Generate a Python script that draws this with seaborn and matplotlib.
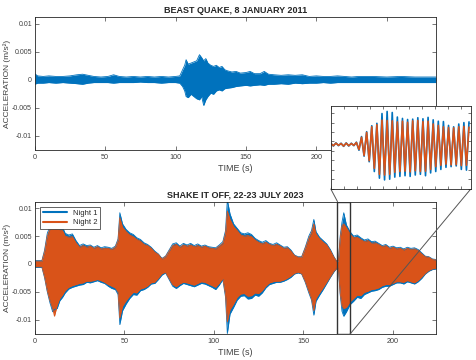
import numpy as np
import pandas as pd
import seaborn as sns
import matplotlib
matplotlib.use("Agg")
import matplotlib.pyplot as plt
from matplotlib.patches import Rectangle, ConnectionPatch
from matplotlib.lines import Line2D

# ---- data (accelerations in mm/s^2, converted to m/s^2 below) ----
# Beast Quake 2011: envelope of the trace
quake_t = [0, 2, 6, 10, 15, 20, 25, 30, 34, 38, 42, 47, 52, 56, 60, 65, 70, 75, 80, 85,
           90, 95, 100, 103, 105, 106.5, 107.5, 109, 111, 113, 115, 117, 118.5, 120, 121.5,
           123, 125, 127, 129, 131, 133, 135, 137, 140, 143, 146, 150, 153, 156, 160, 163,
           166, 170, 175, 180, 185, 190, 195, 200, 205, 210, 215, 220, 225, 230, 240, 250,
           260, 270, 285]
quake_up = [1.1, 0.7, 0.6, 0.7, 0.6, 0.6, 0.7, 0.9, 1.0, 0.8, 0.6, 0.5, 0.6, 0.9, 0.6, 0.5,
            0.6, 0.5, 0.6, 0.5, 0.6, 0.5, 0.6, 0.7, 1.8, 2.6, 3.6, 2.8, 3.0, 3.2, 3.4, 4.5,
            4.0, 3.4, 3.8, 3.0, 2.6, 2.4, 2.6, 2.2, 2.4, 1.8, 1.6, 1.4, 1.5, 1.2, 1.3, 1.5,
            1.1, 1.1, 1.5, 1.0, 0.9, 0.8, 0.9, 0.8, 0.9, 0.6, 0.7, 0.6, 0.6, 0.7, 0.6, 0.5,
            0.6, 0.6, 0.5, 0.6, 0.5, 0.5]
quake_lo = [-0.8, -0.6, -0.6, -0.5, -0.6, -0.5, -0.6, -0.7, -0.8, -0.6, -0.5, -0.5, -0.5,
            -0.6, -0.5, -0.5, -0.5, -0.4, -0.5, -0.5, -0.6, -0.5, -0.5, -0.6, -1.2, -2.0,
            -3.0, -3.2, -2.6, -3.0, -3.4, -3.6, -3.0, -4.6, -3.6, -3.0, -2.4, -2.6, -2.0,
            -1.8, -2.0, -1.6, -1.5, -1.4, -1.2, -1.1, -1.0, -1.1, -1.0, -0.9, -1.0, -0.8,
            -0.8, -0.7, -0.8, -0.6, -0.7, -0.6, -0.6, -0.5, -0.6, -0.5, -0.5, -0.5, -0.5,
            -0.5, -0.5, -0.5, -0.5, -0.5]

# Shake It Off 2023: envelopes of night 1 and night 2
shake_t = [0, 4, 5.5, 7, 8.5, 10, 11, 12.5, 14, 15.5, 17, 19, 21, 23, 25, 27, 29, 31, 33, 35,
           37, 39, 41, 43, 45, 46.5, 47.5, 49, 51, 53, 55, 57, 59, 61, 63, 65, 67, 69, 71,
           73, 75, 77, 79, 81, 83, 85, 87, 89, 91, 93, 95, 97, 99, 101, 103, 105, 106.5,
           107.5, 109, 111, 113, 115, 117, 119, 121, 123, 125, 127, 129, 131, 133, 135, 137,
           139, 141, 143, 145, 147, 149, 151, 153, 154.5, 155.8, 157, 159, 161, 163, 165,
           167, 168.5, 169.5, 170.5, 171.5, 172.5, 174, 176, 178, 180, 182, 184, 186, 188,
           190, 192, 194, 196, 198, 200, 202, 204, 206, 208, 210, 212, 214, 216, 218, 220,
           222, 224]
night1_up = [0.6, 0.6, 2.5, 5.5, 6.8, 7.4, 7.2, 7.3, 6.5, 6.6, 5.5, 5.2, 5.4, 4.2, 3.3, 3.6,
             3.3, 3.4, 3.0, 3.3, 2.9, 3.1, 3.0, 2.8, 3.2, 4.5, 9.2, 7.2, 6.2, 5.6, 5.3, 4.7,
             4.4, 3.8, 3.5, 3.0, 2.3, 1.8, 1.0, 1.4, 2.5, 3.6, 3.8, 3.2, 3.7, 3.4, 3.7, 3.3,
             3.6, 3.2, 3.4, 3.1, 3.0, 2.9, 3.4, 4.0, 6.0, 11.5, 9.0, 7.2, 6.4, 5.6, 5.4, 5.6,
             5.3, 4.6, 4.2, 3.9, 4.2, 3.7, 3.5, 3.8, 3.4, 3.0, 3.1, 2.5, 1.6, 1.3, 1.3, 3.0,
             5.0, 6.0, 8.0, 5.8, 4.8, 4.2, 3.6, 2.6, 1.3, 0.5, 0.5, 5.0, 7.5, 9.2, 7.0, 5.8,
             5.0, 5.2, 4.7, 4.3, 4.5, 4.0, 4.1, 3.7, 3.3, 3.5, 3.0, 3.2, 2.9, 3.0, 2.7, 3.0,
             2.8, 2.9, 2.6, 2.0, 1.4, 1.3, 0.9, 0.8]
night1_lo = [-0.6, -0.6, -2.5, -5.0, -7.0, -8.6, -8.2, -8.0, -6.6, -6.0, -5.2, -4.5, -4.2,
             -4.0, -3.8, -3.7, -3.3, -3.4, -3.2, -3.0, -3.3, -3.5, -4.0, -4.4, -4.6, -5.5,
             -10.9, -8.4, -7.2, -6.2, -5.5, -5.6, -4.8, -4.6, -4.2, -3.6, -3.5, -2.8, -2.0,
             -1.6, -2.8, -4.0, -4.4, -3.9, -3.5, -3.7, -3.9, -4.1, -3.8, -3.5, -3.6, -3.9,
             -4.2, -4.6, -3.8, -2.8, -6.0, -12.5, -9.0, -7.8, -6.5, -5.8, -5.7, -6.3, -6.2,
             -5.6, -5.8, -5.2, -4.3, -3.7, -3.5, -3.3, -3.3, -3.1, -2.8, -2.4, -1.8, -1.6,
             -1.8, -3.3, -5.2, -6.5, -9.2, -6.7, -5.6, -4.6, -3.5, -2.4, -1.4, -0.8, -0.8,
             -5.5, -8.5, -9.4, -8.6, -7.3, -6.7, -6.0, -6.2, -5.5, -5.2, -4.9, -4.8, -4.6,
             -4.2, -4.0, -4.0, -3.7, -3.4, -3.4, -3.6, -3.2, -3.4, -3.6, -3.2, -2.6, -1.8,
             -1.3, -1.0, -0.9]
night2_up = [0.5, 0.5, 2.2, 5.0, 6.3, 7.0, 6.8, 6.9, 6.0, 6.0, 5.0, 4.8, 4.9, 3.8, 3.0, 3.3,
             3.0, 3.2, 2.8, 3.1, 2.7, 2.8, 2.8, 2.6, 3.0, 4.2, 8.3, 6.6, 5.8, 5.2, 4.9, 4.4,
             4.1, 3.5, 3.3, 2.8, 2.1, 1.7, 0.9, 1.3, 2.3, 3.3, 3.5, 3.0, 3.4, 3.2, 3.4, 3.1,
             3.3, 3.0, 3.2, 2.9, 2.8, 2.7, 3.2, 3.7, 5.5, 9.5, 8.0, 6.7, 6.0, 5.2, 5.0, 5.1,
             4.9, 4.3, 3.9, 3.6, 3.9, 3.5, 3.3, 3.5, 3.2, 2.8, 2.9, 2.3, 1.5, 1.2, 1.2, 2.8,
             4.6, 5.6, 7.2, 5.4, 4.5, 3.9, 3.4, 2.4, 1.2, 0.5, 0.5, 4.6, 6.8, 7.2, 6.5, 5.4,
             4.7, 4.8, 4.4, 4.0, 4.2, 3.7, 3.8, 3.5, 3.1, 3.3, 2.8, 3.0, 2.7, 2.8, 2.5, 2.8,
             2.6, 2.7, 2.4, 1.8, 1.3, 1.2, 0.8, 0.7]
night2_lo = [-0.5, -0.5, -2.3, -4.8, -6.6, -8.0, -9.4, -7.5, -6.2, -5.6, -4.8, -4.2, -3.9,
             -3.7, -3.5, -3.4, -3.1, -3.1, -3.0, -2.8, -3.0, -3.3, -3.7, -4.0, -4.3, -5.0,
             -9.7, -7.6, -6.6, -5.8, -5.1, -5.2, -4.5, -4.3, -4.0, -3.4, -3.3, -2.6, -1.8,
             -1.5, -2.6, -3.7, -4.1, -3.6, -3.3, -3.4, -3.6, -3.8, -3.5, -3.2, -3.3, -3.6,
             -3.9, -4.2, -3.5, -2.6, -5.5, -10.4, -8.2, -7.2, -6.0, -5.4, -5.3, -5.8, -5.7,
             -5.2, -5.3, -4.8, -4.0, -3.4, -3.2, -3.1, -3.1, -2.9, -2.6, -2.2, -1.7, -1.5,
             -1.7, -3.1, -4.9, -6.2, -8.4, -6.2, -5.2, -4.3, -3.3, -2.3, -1.3, -0.8, -0.8,
             -5.2, -7.5, -8.0, -7.8, -6.8, -6.2, -5.6, -5.7, -5.1, -4.9, -4.6, -4.5, -4.3,
             -3.9, -3.7, -3.7, -3.5, -3.2, -3.2, -3.3, -3.0, -3.2, -3.4, -3.0, -2.4, -1.7,
             -1.2, -0.9, -0.8]

# zoomed window (seconds) and the peaks/troughs seen inside it
zoom_window = [169.0, 176.0]
zoom_step = 0.128
zoom_night1 = [0.5, -0.3, 0.6, -0.2, 0.5, -0.4, 0.6, -0.3, 0.5, -0.2, 0.8,
               -1.5, 2.4, -3.2, 3.8, -4.8, 5.5, -7.6, 6.2, -9.5, 9.0, -10.0, 9.6, -9.8, 9.3,
               -9.2, 8.0, -9.0, 7.6, -8.8, 7.3, -9.0, 7.4, -8.6, 7.8, -8.4, 7.5, -8.8, 7.9,
               -8.0, 7.2, -7.6, 6.8, -7.0, 6.7, -6.4, 5.6, -6.2, 5.2, -6.0, 6.0, -7.0, 6.4,
               -7.2, 6.6]
zoom_night2 = [0.4, -0.2, 0.5, -0.1, 0.4, -0.3, 0.5, -0.2, 0.4, -0.1, 0.7,
               -1.3, 2.2, -3.0, 3.6, -4.5, 5.2, -6.7, 5.8, -8.4, 7.1, -8.6, 7.0, -8.4, 6.9,
               -7.8, 6.6, -7.6, 6.8, -7.5, 6.5, -7.7, 6.9, -7.4, 7.0, -7.6, 6.7, -7.5, 6.8,
               -7.0, 6.0, -6.2, 5.6, -5.8, 5.2, -5.5, 5.0, -5.7, 4.9, -5.6, 5.2, -5.9, 5.3,
               -5.8, 5.1]

yticks = [-0.01, -0.005, 0, 0.005, 0.01]
ytick_labels = ["-0.01", "-0.005", "0", "0.005", "0.01"]
ylims = (-0.0126, 0.0112)

BLUE = "#0072BD"
ORANGE = "#D95319"
GREY = "#404040"

sns.set_theme(style="ticks")
plt.rcParams["font.family"] = ["Liberation Sans", "DejaVu Sans"]
plt.rcParams.update({
    "axes.edgecolor": "#262626", "axes.linewidth": 0.6,
    "xtick.direction": "in", "ytick.direction": "in",
    "xtick.top": True, "ytick.right": True,
    "xtick.major.size": 3, "ytick.major.size": 3,
    "xtick.major.width": 0.5, "ytick.major.width": 0.5,
    "xtick.color": GREY, "ytick.color": GREY,
    "xtick.labelsize": 5.2, "ytick.labelsize": 5.0,
})

s = 1e-3
quake = pd.DataFrame({"t": quake_t, "up": np.array(quake_up) * s, "lo": np.array(quake_lo) * s})
shake = pd.DataFrame({"t": shake_t,
                      "n1_up": np.array(night1_up) * s, "n1_lo": np.array(night1_lo) * s,
                      "n2_up": np.array(night2_up) * s, "n2_lo": np.array(night2_lo) * s})
zoom_t = zoom_window[0] + zoom_step * np.arange(len(zoom_night1))
zoom = pd.DataFrame({"t": zoom_t, "n1": np.array(zoom_night1) * s, "n2": np.array(zoom_night2) * s})

fig = plt.figure(figsize=(4.76, 3.6), dpi=100)
ax1 = fig.add_axes([0.073, 0.583, 0.843, 0.369])
ax2 = fig.add_axes([0.073, 0.072, 0.843, 0.368])


def style_axis(ax, title, xmax, xticks):
    ax.set_xlim(0, xmax)
    ax.set_ylim(*ylims)
    ax.set_xticks(xticks)
    ax.set_yticks(yticks)
    ax.set_yticklabels(ytick_labels)
    ax.tick_params(axis="y", pad=2)
    ax.tick_params(axis="x", pad=3)
    ax.set_title(title, fontsize=6.5, fontweight="bold", pad=3)
    ax.set_xlabel("TIME (s)", fontsize=6.5, color=GREY, labelpad=2)
    ax.set_ylabel("ACCELERATION (m/s²)", fontsize=6.0, color=GREY)
    ax.yaxis.set_label_coords(-0.06, 0.5)


# top: beast quake
ax1.fill_between(quake["t"], quake["lo"], quake["up"], color=BLUE, lw=0)
sns.lineplot(data=quake, x="t", y="up", ax=ax1, color=BLUE, lw=0.6)
sns.lineplot(data=quake, x="t", y="lo", ax=ax1, color=BLUE, lw=0.6)
style_axis(ax1, "BEAST QUAKE, 8 JANUARY 2011", 285, [0, 50, 100, 150, 200, 250])

# bottom: shake it off, two nights
ax2.fill_between(shake["t"], shake["n1_lo"], shake["n1_up"], color=BLUE, lw=0)
sns.lineplot(data=shake, x="t", y="n1_up", ax=ax2, color=BLUE, lw=0.6)
sns.lineplot(data=shake, x="t", y="n1_lo", ax=ax2, color=BLUE, lw=0.6)
ax2.fill_between(shake["t"], shake["n2_lo"], shake["n2_up"], color=ORANGE, lw=0)
sns.lineplot(data=shake, x="t", y="n2_up", ax=ax2, color=ORANGE, lw=0.6)
sns.lineplot(data=shake, x="t", y="n2_lo", ax=ax2, color=ORANGE, lw=0.6)
style_axis(ax2, "SHAKE IT OFF, 22-23 JULY 2023", 224, [0, 50, 100, 150, 200])
handles = [Line2D([], [], color=BLUE, lw=1.5), Line2D([], [], color=ORANGE, lw=1.5)]
leg = ax2.legend(handles, ["Night 1", "Night 2"], loc="upper left", fontsize=5.5,
                 frameon=True, fancybox=False, handlelength=3.2, handletextpad=0.8,
                 borderpad=0.35, labelspacing=0.25, borderaxespad=0.7)
leg.get_frame().set_edgecolor("#262626")
leg.get_frame().set_linewidth(0.5)
leg.get_frame().set_alpha(1)

# zoom box on the bottom panel
ax2.add_patch(Rectangle((zoom_window[0], ylims[0]), zoom_window[1] - zoom_window[0],
                        ylims[1] - ylims[0], fill=False, edgecolor="#333333", lw=1.0, zorder=5))

# inset
axin = fig.add_axes([0.695, 0.475, 0.294, 0.231], zorder=10)
axin.set_facecolor("white")
sns.lineplot(data=zoom, x="t", y="n1", ax=axin, color=BLUE, lw=1.2)
sns.lineplot(data=zoom, x="t", y="n2", ax=axin, color=ORANGE, lw=1.2)
axin.set_xlim(*zoom_window)
axin.set_ylim(*ylims)
axin.set_xticks(np.arange(zoom_window[0], zoom_window[1] + 0.01, 0.65))
axin.set_yticks(np.arange(-0.0125, 0.0113, 0.0027))
axin.tick_params(labelbottom=False, labelleft=False, length=2)
axin.set_xlabel("")
axin.set_ylabel("")

for xa, xb in [(zoom_window[0], zoom_window[0]), (zoom_window[1], zoom_window[1])]:
    ya = ylims[1] if xa == zoom_window[0] else ylims[0]
    con = ConnectionPatch(xyA=(xa, ya), coordsA=ax2.transData,
                          xyB=(xb, ylims[0]), coordsB=axin.transData,
                          color="#555555", lw=0.7)
    fig.add_artist(con)

fig.savefig("out.png", dpi=100)
